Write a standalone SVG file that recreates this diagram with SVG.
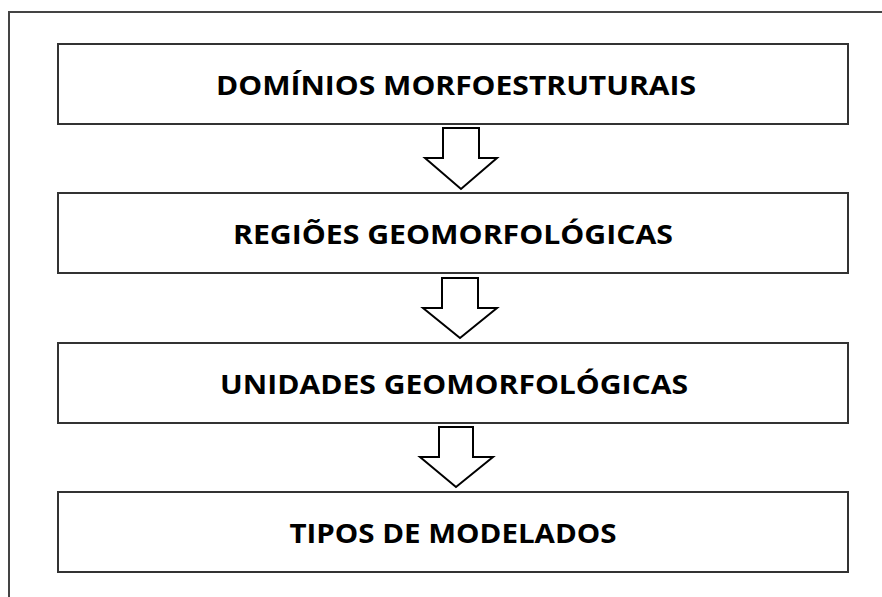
<svg xmlns="http://www.w3.org/2000/svg" width="882" height="597" viewBox="0 0 882 597">
<style>
.frame{fill:none;stroke:#444;stroke-width:2}
.box{fill:#fff;stroke:#333;stroke-width:2}
.lbl{font-family:"Open Sans","Liberation Sans",sans-serif;font-weight:bold;font-size:26px;fill:#000;text-anchor:middle}
.arr{fill:#fff;stroke:#000;stroke-width:2;stroke-linejoin:miter}
</style>
<rect width="882" height="597" fill="#fff"/>
<rect class="frame" x="9" y="12" width="890" height="600"/>
<g id="n1"><rect class="box" x="58" y="44" width="790" height="80"/><text class="lbl" x="456" y="95" textLength="480" lengthAdjust="spacingAndGlyphs">DOMÍNIOS MORFOESTRUTURAIS</text></g>
<g id="n2"><rect class="box" x="58" y="193" width="790" height="80"/><text class="lbl" x="453" y="244" textLength="440" lengthAdjust="spacingAndGlyphs">REGIÕES GEOMORFOLÓGICAS</text></g>
<g id="n3"><rect class="box" x="58" y="343" width="790" height="80"/><text class="lbl" x="454" y="394" textLength="468" lengthAdjust="spacingAndGlyphs">UNIDADES GEOMORFOLÓGICAS</text></g>
<g id="n4"><rect class="box" x="58" y="492" width="790" height="80"/><text class="lbl" x="453" y="543" textLength="327" lengthAdjust="spacingAndGlyphs">TIPOS DE MODELADOS</text></g>
<g id="connectors">
<polygon class="arr" points="443,128 479,128 479,158 497,158 461,189 425,158 443,158"/>
<polygon class="arr" points="442,278 478,278 478,308 497,308 460,338 423,308 442,308"/>
<polygon class="arr" points="439,427 473,427 473,457 493,457 456,487 420,457 439,457"/>
</g>
</svg>
